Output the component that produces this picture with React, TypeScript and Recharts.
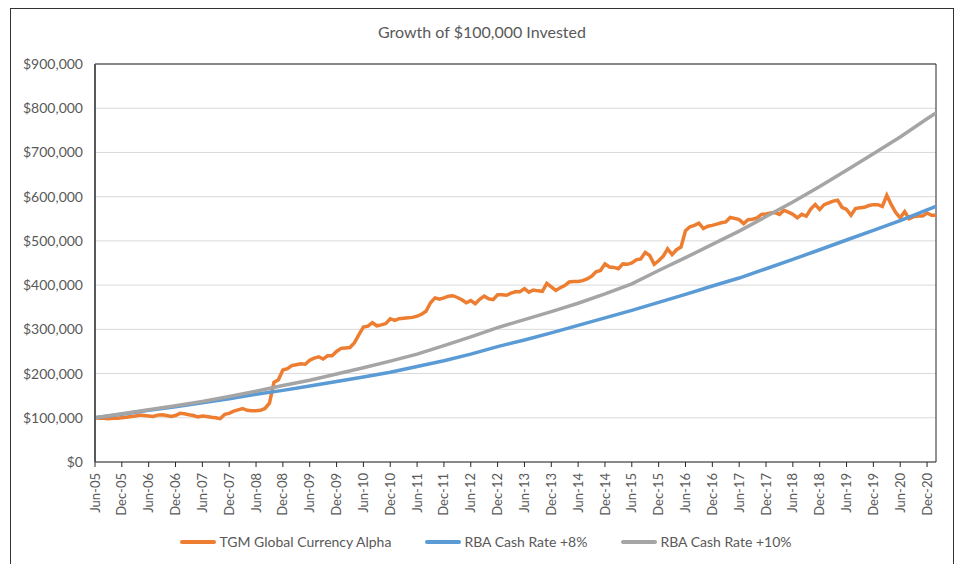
import React from "react"
import { LineChart, Line, XAxis, YAxis, CartesianGrid, Legend, ReferenceLine } from "recharts"

// monthly points, Jun-05 .. Feb-21
const START_YEAR = 2005
const START_MONTH = 5 // June (0-based)
const MONTH_NAMES = ["Jan", "Feb", "Mar", "Apr", "May", "Jun", "Jul", "Aug", "Sep", "Oct", "Nov", "Dec"]

// TGM Global Currency Alpha, value of $100k in $ thousands
const TGM = [
  100, 99, 99, 98, 99, 99, 100, 101, 103, 104, 106, 105,
  104, 103, 106, 107, 105, 103, 105, 110, 109, 107, 105, 102,
  104, 103, 101, 100, 98, 108, 110, 115, 118, 121, 117, 116,
  116, 117, 121, 133, 180, 186, 208, 211, 218, 220, 222, 221,
  230, 235, 238, 233, 240, 240, 250, 257, 258, 259, 270, 288,
  305, 307, 315, 308, 310, 313, 324, 320, 324, 325, 326, 327,
  330, 334, 341, 360, 371, 368, 371, 375, 376, 372, 367, 360,
  365, 358, 368, 375, 369, 367, 378, 378, 377, 382, 385, 385,
  392, 384, 389, 387, 386, 404, 396, 388, 394, 399, 407, 408,
  408, 410, 414, 420, 430, 433, 448, 441, 440, 437, 448, 447,
  450, 457, 459, 474, 467, 447, 455, 465, 482, 469, 480, 486,
  523, 532, 535, 540, 528, 533, 535, 538, 541, 543, 553, 551,
  548, 539, 548, 549, 552, 560, 561, 563, 564, 560, 569, 565,
  560, 552, 560, 556, 572, 582, 571, 582, 586, 590, 592, 576,
  571, 558, 573, 575, 576, 580, 582, 582, 578, 603, 582, 564,
  552, 566, 550, 555, 556, 556, 563, 558, 558,
]

// benchmarks read every six months (Jun-05, Dec-05, ... Dec-20) plus the last point (Feb-21)
const RBA_8 = [
  100, 108, 117, 125, 134, 143, 153, 162, 172, 182, 192, 203,
  216, 229, 244, 261, 276, 292, 309, 326, 343, 361, 379, 398,
  416, 437, 458, 480, 502, 524, 546, 570, 578,
]
const RBA_10 = [
  100, 109, 118, 127, 137, 148, 160, 173, 185, 199, 213, 228,
  244, 263, 283, 304, 322, 340, 359, 380, 403, 433, 462, 492,
  522, 555, 588, 623, 660, 697, 735, 776, 789,
]

const Y_TICKS = [0, 100, 200, 300, 400, 500, 600, 700, 800, 900]

const SERIES = [
  { key: "tgm", name: "TGM Global Currency Alpha", color: "#ED7D31" },
  { key: "rba8", name: "RBA Cash Rate +8%", color: "#5B9BD5" },
  { key: "rba10", name: "RBA Cash Rate +10%", color: "#A5A5A5" },
]

const FONT = "Lato, 'Liberation Sans', sans-serif"
const TEXT = "#595959"

const monthLabel = (i: number) => {
  const m = START_MONTH + i
  const y = START_YEAR + Math.floor(m / 12)
  return `${MONTH_NAMES[m % 12]}-${String(y % 100).padStart(2, "0")}`
}

const last = TGM.length - 1
const data = TGM.map((v, i) => {
  const semi = i % 6 === 0 ? i / 6 : -1
  const idx = i === last ? RBA_8.length - 1 : semi
  return {
    month: monthLabel(i),
    tgm: v,
    rba8: idx >= 0 ? RBA_8[idx] : null,
    rba10: idx >= 0 ? RBA_10[idx] : null,
  }
})

const fmtDollar = (v: number) => "$" + (v * 1000).toLocaleString("en-US")

const XTick = (props: any) => {
  const { x, y, payload } = props
  return (
    <text
      x={x}
      y={y}
      transform={`rotate(-90 ${x} ${y})`}
      textAnchor="end"
      dy="0.35em"
      fill={TEXT}
      fontSize={13}
      fontFamily={FONT}
    >
      {payload.value}
    </text>
  )
}

const LegendBox = () => (
  <div style={{ display: "flex", justifyContent: "center", paddingLeft: 12, fontFamily: FONT, fontSize: 14, color: TEXT }}>
    {SERIES.map((s, i) => (
      <div key={s.key} style={{ display: "flex", alignItems: "center", marginLeft: i === 0 ? 0 : 34 }}>
        <span style={{ display: "inline-block", width: 36, height: 4, borderRadius: 2, background: s.color, marginRight: 3 }} />
        <span>{s.name}</span>
      </div>
    ))}
  </div>
)

export default function App() {
  return (
    <div style={{ position: "absolute", left: 0, top: 0, width: 960, height: 564, overflow: "hidden", background: "#fff" }}>
      <div
        style={{
          position: "absolute",
          left: 10,
          top: 8,
          width: 944,
          height: 620,
          border: "1px solid #333",
          boxSizing: "border-box",
        }}
      />
      <div
        style={{
          position: "absolute",
          left: 0,
          width: 964,
          top: 22,
          textAlign: "center",
          fontFamily: FONT,
          fontSize: 16,
          color: TEXT,
        }}
      >
        Growth of $100,000 Invested
      </div>
      <div style={{ position: "absolute", left: 0, top: 0 }}>
        <LineChart width={960} height={564} data={data} margin={{ top: 64, right: 24, bottom: 40, left: 0 }}>
          <CartesianGrid vertical={false} stroke="#D9D9D9" />
          <XAxis
            dataKey="month"
            interval={5}
            tick={<XTick />}
            tickSize={5}
            tickMargin={6}
            height={62}
            axisLine={{ stroke: "#262626" }}
            tickLine={{ stroke: "#262626" }}
          />
          <YAxis
            domain={[0, 900]}
            ticks={Y_TICKS}
            width={95}
            tickFormatter={fmtDollar}
            tickSize={0}
            tickMargin={12}
            axisLine={{ stroke: "#595959", strokeWidth: 2 }}
            tick={{ fill: TEXT, fontSize: 14, fontFamily: FONT }}
          />
          <ReferenceLine y={900} stroke="#262626" />
          <ReferenceLine x={data[last].month} stroke="#262626" />
          {SERIES.map((s) => (
            <Line
              key={s.key}
              type="linear"
              dataKey={s.key}
              name={s.name}
              stroke={s.color}
              strokeWidth={3.5}
              dot={false}
              connectNulls
              isAnimationActive={false}
            />
          ))}
          <Legend
            layout="horizontal"
            verticalAlign="middle"
            align="center"
            content={<LegendBox />}
            wrapperStyle={{ top: 533, left: 0, width: 960 }}
          />
        </LineChart>
      </div>
    </div>
  )
}
